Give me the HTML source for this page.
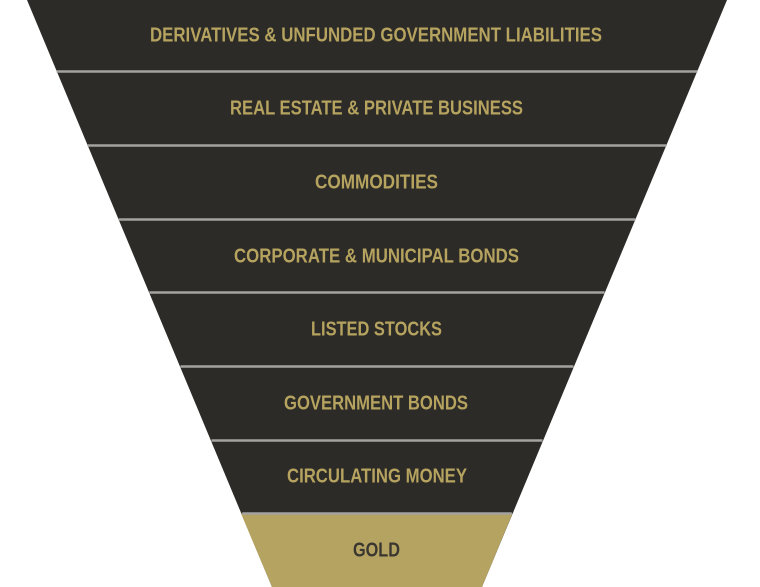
<!DOCTYPE html>
<html><head><meta charset="utf-8"><style>
html,body{margin:0;padding:0;background:#fff;width:760px;height:587px;overflow:hidden}
text{font-family:"Liberation Sans",sans-serif;font-weight:bold;font-size:20.5px}
</style></head><body>
<svg width="760" height="587" viewBox="0 0 760 587" xmlns="http://www.w3.org/2000/svg">
<polygon points="27,0 727,0 482,587 272,587" fill="#2d2b27"/>
<polygon points="241,513.5 512.5,513.5 482,587 272,587" fill="#b5a362"/>
<g stroke="#a3a3a0" stroke-width="2.5">
<line x1="56.6" y1="71.5" x2="697.4" y2="71.5"/>
<line x1="87.7" y1="145.5" x2="666.3" y2="145.5"/>
<line x1="118.7" y1="219.5" x2="635.3" y2="219.5"/>
<line x1="149.4" y1="292.5" x2="604.6" y2="292.5"/>
<line x1="180.5" y1="366.5" x2="573.5" y2="366.5"/>
<line x1="211.5" y1="440.5" x2="542.5" y2="440.5"/>
<line x1="242.2" y1="513.5" x2="511.8" y2="513.5"/>
</g>
<g fill="#b5a35f">
<text x="150" y="41.5" textLength="452" lengthAdjust="spacingAndGlyphs">DERIVATIVES &amp; UNFUNDED GOVERNMENT LIABILITIES</text>
<text x="230" y="114.5" textLength="293" lengthAdjust="spacingAndGlyphs">REAL ESTATE &amp; PRIVATE BUSINESS</text>
<text x="315" y="188.5" textLength="123" lengthAdjust="spacingAndGlyphs">COMMODITIES</text>
<text x="234" y="262.5" textLength="285" lengthAdjust="spacingAndGlyphs">CORPORATE &amp; MUNICIPAL BONDS</text>
<text x="311" y="335.5" textLength="131" lengthAdjust="spacingAndGlyphs">LISTED STOCKS</text>
<text x="284" y="409.5" textLength="184" lengthAdjust="spacingAndGlyphs">GOVERNMENT BONDS</text>
<text x="287" y="482.5" textLength="180" lengthAdjust="spacingAndGlyphs">CIRCULATING MONEY</text>
</g>
<text x="353" y="556.5" textLength="47" lengthAdjust="spacingAndGlyphs" fill="#3a3630">GOLD</text>
</svg>
</body></html>
